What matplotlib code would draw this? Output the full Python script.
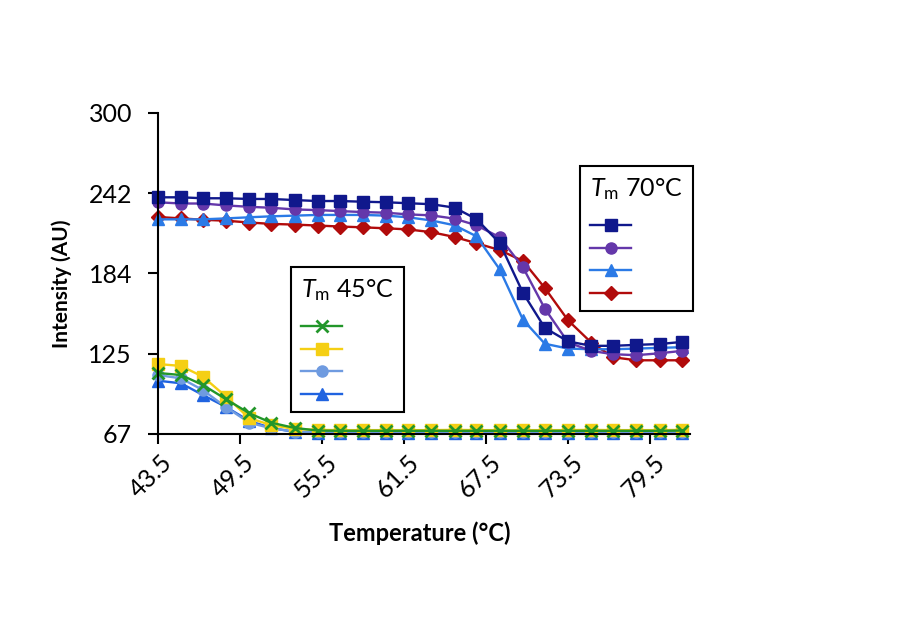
import numpy as np
import matplotlib
matplotlib.use("Agg")
import matplotlib.pyplot as plt
import matplotlib.transforms as mtransforms

plt.rcParams['font.family'] = ['Lato', 'DejaVu Sans']
plt.rcParams['mathtext.fontset'] = 'custom'
plt.rcParams['mathtext.it'] = 'Lato:italic'
plt.rcParams['mathtext.rm'] = 'Lato'

# temperatures (deg C)
temps = [43.5, 45.2, 46.8, 48.5, 50.2, 51.8, 53.5, 55.2, 56.8, 58.5, 60.2, 61.8,
         63.5, 65.2, 66.8, 68.5, 70.2, 71.8, 73.5, 75.2, 76.8, 78.5, 80.2, 81.8]

# Tm 70 C group
hi_square = [238.8, 238.8, 238.1, 238.1, 237.6, 237.6, 236.8, 236.1, 236.1, 235.6, 235.2, 234.5,
             233.8, 231.3, 223.0, 205.6, 169.5, 144.0, 134.2, 131.0, 131.0, 131.7, 132.3, 133.8]
hi_circle = [235.2, 234.3, 234.3, 232.9, 231.9, 231.2, 230.0, 229.5, 228.8, 228.1, 227.6, 226.4,
             225.7, 223.3, 218.5, 209.8, 188.0, 158.0, 133.5, 127.3, 124.9, 124.2, 125.6, 127.3]
hi_triangle = [222.8, 222.8, 222.8, 223.5, 224.3, 225.0, 225.5, 226.0, 226.0, 226.0, 225.5, 224.3,
               222.0, 218.5, 210.5, 186.5, 150.0, 132.5, 129.0, 128.5, 128.5, 129.0, 129.5, 130.0]
hi_diamond = [224.5, 223.5, 222.5, 221.8, 220.5, 219.5, 219.0, 218.3, 217.6, 217.0, 216.3, 215.5,
              213.5, 210.0, 205.5, 200.5, 192.6, 173.0, 149.5, 133.3, 122.7, 120.5, 120.5, 120.5]

# Tm 45 C group
lo_cross = [111.3, 109.8, 102.6, 92.2, 82.0, 75.2, 71.4, 69.5, 69.3, 69.3, 69.3, 69.3,
            69.3, 69.3, 69.3, 69.3, 69.3, 69.3, 69.3, 69.3, 69.3, 69.3, 69.3, 69.5]
lo_square = [117.8, 116.4, 108.6, 94.1, 78.4, 73.5, 70.6, 70.0, 69.8, 69.8, 69.8, 69.8,
             69.8, 70.0, 69.8, 69.8, 69.8, 69.8, 69.8, 70.0, 69.8, 69.8, 69.8, 70.0]
lo_circle = [109.8, 107.4, 98.9, 86.4, 75.2, 71.1, 68.8, 68.3, 68.3, 68.3, 68.3, 68.3,
             68.3, 68.3, 68.3, 68.3, 68.3, 68.3, 68.3, 68.3, 68.3, 68.3, 68.3, 68.3]
lo_triangle = [105.7, 103.8, 95.3, 86.6, 76.4, 71.4, 68.5, 68.0, 68.0, 68.0, 68.0, 68.0,
               68.0, 68.0, 68.0, 68.0, 68.0, 68.0, 68.0, 68.0, 68.0, 68.0, 68.0, 68.0]

x_ticks = [43.5, 49.5, 55.5, 61.5, 67.5, 73.5, 79.5]
y_ticks = np.linspace(67, 300, 5)

fig = plt.figure(figsize=(9.08, 6.42), dpi=100)
ax = fig.add_axes([0.1737, 0.324, 0.586, 0.500])


def series(y, color, marker, ms, **kw):
    line, = ax.plot(temps, y, color=color, marker=marker, markersize=ms,
                    markeredgecolor=color, markerfacecolor=color, lw=1.7,
                    clip_on=False, **kw)
    return line


# low group (drawn first, green on top)
h_lt = series(lo_triangle, '#2063e0', '^', 8.5)
h_lc = series(lo_circle, '#6f9be0', 'o', 8)
h_ls = series(lo_square, '#f5cf14', 's', 8)
h_lx = series(lo_cross, '#22962a', 'x', 8.5, markeredgewidth=2)

# high group
h_hd = series(hi_diamond, '#b10b0b', 'D', 7.5)
h_ht = series(hi_triangle, '#2b7ae6', '^', 8.5)
h_hc = series(hi_circle, '#6437aa', 'o', 8)
h_hs = series(hi_square, '#10188c', 's', 8.5)

ax.set_xlim(43.5, 82.4)
ax.set_ylim(67, 300)
ax.set_xticks(x_ticks)
ax.set_xticklabels([str(t) for t in x_ticks], rotation=45, ha='right',
                   va='center', rotation_mode='anchor')
ax.set_yticks(y_ticks)
ax.set_yticklabels(['%d' % round(v) for v in y_ticks])
ax.tick_params(axis='both', direction='out', length=7.5, width=1.5,
               labelsize=18, colors='black')
ax.tick_params(axis='y', pad=11)
ax.tick_params(axis='x', pad=8)
# shift rotated labels a bit to the right like the original
shift = mtransforms.ScaledTranslation(8 / 72, -2 / 72, fig.dpi_scale_trans)
for lab in ax.get_xticklabels():
    lab.set_transform(lab.get_transform() + shift)
for s in ['top', 'right']:
    ax.spines[s].set_visible(False)
for s in ['left', 'bottom']:
    ax.spines[s].set_linewidth(1.5)

fig.text(420 / 908, 1 - 533 / 642, 'Temperature (°C)', ha='center', va='center',
         fontsize=17, fontweight='bold')
fig.text(62 / 908, 1 - 284 / 642, 'Intensity (AU)', ha='center', va='center',
         rotation=90, fontsize=15, fontweight='bold')

leg_kw = dict(frameon=True, fancybox=False, shadow=False, framealpha=1,
              edgecolor='black', fontsize=10, handlelength=2.9, handletextpad=0,
              labelspacing=0.78, borderpad=0.75, borderaxespad=0, alignment='left',
              title_fontsize=18, loc='upper left')

leg1 = ax.legend([h_lx, h_ls, h_lc, h_lt], ['', '', '', ''],
                 title=r'$T_\mathrm{m}$ 45°C',
                 bbox_to_anchor=(291 / 908, 1 - 267 / 642),
                 bbox_transform=fig.transFigure, **leg_kw)
leg1.get_frame().set_linewidth(1.5)
leg1._legend_box.sep = 12.5   # extra gap under the title
ax.add_artist(leg1)

leg2 = ax.legend([h_hs, h_hc, h_ht, h_hd], ['', '', '', ''],
                 title=r'$T_\mathrm{m}$ 70°C',
                 bbox_to_anchor=(580 / 908, 1 - 166 / 642),
                 bbox_transform=fig.transFigure, **leg_kw)
leg2.get_frame().set_linewidth(1.5)
leg2._legend_box.sep = 12.5

fig.savefig('out.png', dpi=100)
